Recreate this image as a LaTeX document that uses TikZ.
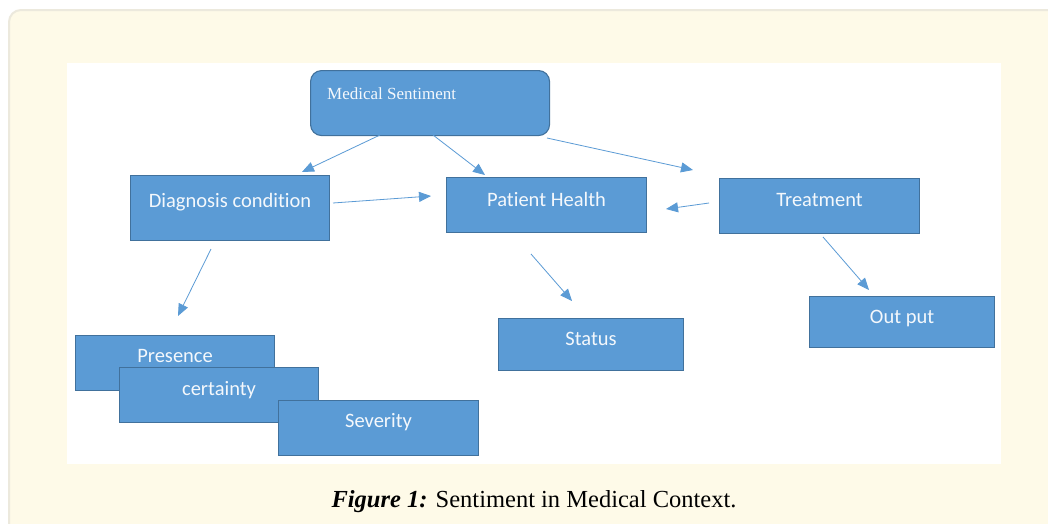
\documentclass[tikz,border=0pt]{standalone}
\usepackage{fontspec}
\setmainfont{Liberation Serif}
\newfontfamily\boxfont[Ligatures=NoCommon]{Carlito}
\usetikzlibrary{arrows.meta}
\definecolor{panelfill}{HTML}{FEFAE8}
\definecolor{paneldraw}{HTML}{ECE9DD}
\definecolor{boxfill}{HTML}{5B9BD5}
\definecolor{boxdraw}{HTML}{41719C}
\definecolor{arrowcol}{HTML}{5B9BD5}
\definecolor{boxtext}{HTML}{F4F8FC}
\tikzset{
  bx/.style n args={3}{draw=boxdraw, fill=boxfill, line width=1.1pt, text=boxtext,
    font=\boxfont\fontsize{20.5}{24}\selectfont, rectangle, inner sep=0pt,
    anchor=north west, minimum width=#1, text height=#2, text depth=#3},
  conn/.style={draw=arrowcol, line width=0.8pt, -{Triangle[length=12pt,width=10pt]}},
}
\begin{document}
\begin{tikzpicture}[x=1pt,y=-1pt]
\useasboundingbox (0,0) rectangle (1048,523);
\fill[white] (0,0) rectangle (1048,523);
\draw[fill=panelfill, draw=paneldraw, line width=2pt, rounded corners=12pt] (9,10) rectangle (1070,545);
\fill[white] (67,63) rectangle (1001,464);

% top node
\node[draw=boxdraw, fill=boxfill, line width=1.1pt, rounded corners=11pt, rectangle,
  minimum width=239pt, minimum height=65pt, anchor=north west, inner sep=0pt] (ms) at (310,70) {};
\node[text=boxtext, font=\fontsize{17}{20}\selectfont, anchor=base west, inner sep=0pt] (mst) at (327,99) {Medical Sentiment};

\node[bx={199pt}{32pt}{33pt}] (diag) at (130,175) {Diagnosis condition};
\node[bx={200pt}{29pt}{26pt}] (ph) at (446,177) {Patient Health};
\node[bx={200pt}{28pt}{27pt}] (treat) at (719,178) {Treatment};
\node[bx={185pt}{27pt}{24pt}] (out) at (809,296) {Out put};
\node[bx={185pt}{27pt}{25pt}] (status) at (498,318) {Status};
\node[bx={199pt}{27pt}{28pt}] (pres) at (75,335) {Presence};
\node[bx={199pt}{28pt}{27pt}] (cert) at (119,367) {certainty};
\node[bx={200pt}{27pt}{28pt}] (sev) at (278,400) {Severity};

% arrow end points
\coordinate (a1s) at (380,135); \coordinate (a1e) at (302,172);
\coordinate (a2s) at (433,135); \coordinate (a2e) at (485,175);
\coordinate (a3s) at (547,138); \coordinate (a3e) at (693,170);
\coordinate (a4s) at (333,203); \coordinate (a4e) at (431,196);
\coordinate (a5s) at (709,203); \coordinate (a5e) at (666,209);
\coordinate (a6s) at (823,237); \coordinate (a6e) at (869,290);
\coordinate (a7s) at (531,254); \coordinate (a7e) at (572,301);
\coordinate (a8s) at (211,249); \coordinate (a8e) at (178,316);

\draw[conn] (a1s) -- (a1e);
\draw[conn] (a2s) -- (a2e);
\draw[conn] (a3s) -- (a3e);
\draw[conn] (a4s) -- (a4e);
\draw[conn] (a5s) -- (a5e);
\draw[conn] (a6s) -- (a6e);
\draw[conn] (a7s) -- (a7e);
\draw[conn] (a8s) -- (a8e);

\node[anchor=base, inner sep=0pt, font=\fontsize{24.5}{28}\selectfont] (cap) at (534,507)
  {\textbf{\textit{Figure 1:}} Sentiment in Medical Context.};
\end{tikzpicture}
\end{document}
